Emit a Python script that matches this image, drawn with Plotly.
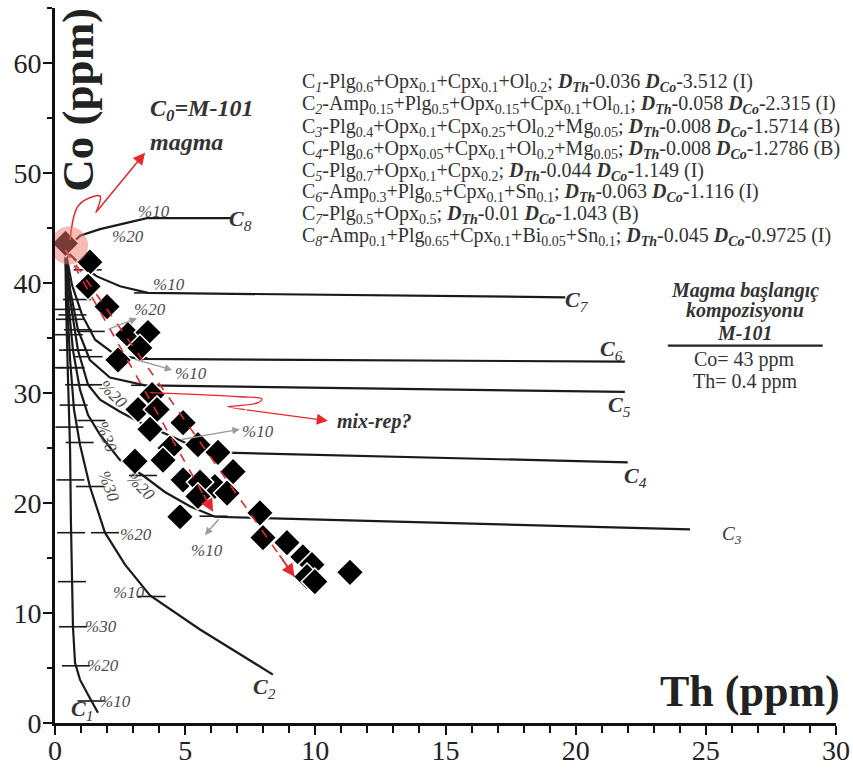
import numpy as np
import plotly.graph_objects as go

# ---- fractional crystallisation paths (Th ppm, Co ppm) starting at M-101 ----
c1_th = [0.40, 0.42, 0.50, 0.58, 0.61, 0.65, 0.69, 0.77, 0.96, 1.27, 1.65]
c1_co = [43.0, 38.5, 31.2, 24.8, 18.5, 13.0, 8.75, 5.48, 3.94, 2.57, 0.94]
c2_th = [0.40, 0.46, 0.58, 0.73, 0.96, 1.34, 1.92, 2.69, 3.65, 5.57, 8.37]
c2_co = [43.0, 38.5, 33.0, 28.5, 25.3, 21.5, 17.3, 14.4, 11.6, 8.5, 4.4]
c3_th = [0.40, 0.50, 0.69, 0.96, 1.27, 1.73, 2.50, 3.38, 4.22, 5.18, 6.14, 24.39]
c3_co = [43.0, 38.5, 33.9, 30.3, 28.0, 26.2, 23.9, 22.5, 21.0, 19.7, 18.75, 17.6]
c4_th = [0.40, 0.58, 0.88, 1.27, 1.73, 2.50, 3.46, 4.53, 5.57, 6.14, 22.0]
c4_co = [43.0, 38.5, 33.9, 30.75, 29.4, 28.3, 27.1, 26.0, 24.85, 24.6, 23.7]
c5_th = [0.40, 0.58, 0.88, 1.34, 2.11, 3.46, 21.89]
c5_co = [43.0, 39.4, 35.75, 33.0, 31.4, 30.7, 30.1]
c6_th = [0.40, 0.65, 1.04, 1.54, 2.30, 3.26, 21.89]
c6_co = [43.0, 39.85, 37.1, 34.85, 33.5, 33.1, 32.85]
c7_th = [0.40, 0.96, 1.61, 2.50, 3.57, 19.6]
c7_co = [43.0, 41.7, 40.6, 39.7, 39.1, 38.7]
c8_th = [0.40, 0.96, 1.73, 3.53, 6.84]
c8_co = [43.0, 44.3, 44.9, 45.9, 45.9]

# Co levels of the 10 % crystallisation steps marked on each path
c1_steps = [2.0, 5.2, 8.75, 12.85, 17.3, 22.1, 26.9, 32.3, 37.6]
c2_steps = [11.5, 17.3, 21.5, 25.5, 28.9, 32.3, 35.3]
c3_steps = [18.8, 22.5, 27.5, 30.75, 33.9, 36.7]
c4_steps = [24.7, 30.75, 33.9, 37.1]
c5_steps = [30.7, 33.3, 35.75]
c6_steps = [33.2, 35.6, 38.5]
c7_steps = [39.1, 41.2]

# ---- analysed samples ----
sample_th = [0.40, 1.34, 1.27, 2.00, 2.80, 3.57, 3.26, 2.42, 3.73, 3.19, 3.92,
             3.65, 4.92, 5.49, 4.42, 4.15, 3.07, 6.26, 4.92, 6.84, 6.14, 5.57,
             6.61, 5.49, 4.80, 7.87, 7.99, 8.91, 9.52, 9.87, 9.68, 9.98, 11.33]
sample_co = [43.6, 41.9, 39.7, 37.85, 35.3, 35.5, 34.1, 33.0, 29.85, 28.5, 28.5,
             26.7, 27.3, 25.3, 25.0, 23.9, 23.8, 24.6, 22.1, 22.85, 21.5, 21.9,
             20.9, 20.6, 18.75, 19.1, 16.85, 16.4, 15.1, 14.4, 13.3, 12.85, 13.7]

# ---- starting magma ----
m101_th = 0.54
m101_co = 43.4

# ---- trend arrows (start / end) ----
trend_a_th = [0.4, 6.07]
trend_a_co = [43.0, 19.2]
trend_b_th = [0.4, 9.2]
trend_b_co = [43.0, 13.3]

# zig-zag leader lines
c0_leader_th = [0.58, 0.92, 1.73, 1.57]
c0_leader_co = [43.9, 47.1, 47.9, 46.4]
c0_leader_tip = (3.46, 51.85)
mix_leader_th = [3.65, 5.57, 7.10, 7.95, 7.80, 7.10, 6.64, 7.30]
mix_leader_co = [30.03, 29.85, 29.66, 29.48, 29.12, 28.85, 28.76, 28.48]
mix_leader_tip = (10.48, 27.48)

# ---- legend text ----
D_TH = "<b><i>D</i></b><sub><b><i>Th</i></b></sub>"
D_CO = "<b><i>D</i></b><sub><b><i>Co</i></b></sub>"
model_lines = [
    f"C<sub><i>1</i></sub>-Plg<sub>0.6</sub>+Opx<sub>0.1</sub>+Cpx<sub>0.1</sub>+Ol<sub>0.2</sub>; {D_TH}-0.036 {D_CO}-3.512 (I)",
    f"C<sub><i>2</i></sub>-Amp<sub>0.15</sub>+Plg<sub>0.5</sub>+Opx<sub>0.15</sub>+Cpx<sub>0.1</sub>+Ol<sub>0.1</sub>; {D_TH}-0.058 {D_CO}-2.315 (I)",
    f"C<sub><i>3</i></sub>-Plg<sub>0.4</sub>+Opx<sub>0.1</sub>+Cpx<sub>0.25</sub>+Ol<sub>0.2</sub>+Mg<sub>0.05</sub>; {D_TH}-0.008 {D_CO}-1.5714 (B)",
    f"C<sub><i>4</i></sub>-Plg<sub>0.6</sub>+Opx<sub>0.05</sub>+Cpx<sub>0.1</sub>+Ol<sub>0.2</sub>+Mg<sub>0.05</sub>; {D_TH}-0.008 {D_CO}-1.2786 (B)",
    f"C<sub><i>5</i></sub>-Plg<sub>0.7</sub>+Opx<sub>0.1</sub>+Cpx<sub>0.2</sub>; {D_TH}-0.044 {D_CO}-1.149 (I)",
    f"C<sub><i>6</i></sub>-Amp<sub>0.3</sub>+Plg<sub>0.5</sub>+Cpx<sub>0.1</sub>+Sn<sub>0.1</sub>; {D_TH}-0.063 {D_CO}-1.116 (I)",
    f"C<sub><i>7</i></sub>-Plg<sub>0.5</sub>+Opx<sub>0.5</sub>; {D_TH}-0.01 {D_CO}-1.043 (B)",
    f"C<sub><i>8</i></sub>-Amp<sub>0.1</sub>+Plg<sub>0.65</sub>+Cpx<sub>0.1</sub>+Bi<sub>0.05</sub>+Sn<sub>0.1</sub>; {D_TH}-0.045 {D_CO}-0.9725 (I)",
]
model_line_co = [58.25, 56.25, 54.15, 52.15, 50.15, 48.2, 46.2, 44.2]

SERIF = "Liberation Serif"
INK = "#1a1a1a"
TEXT = "#333333"
RED = "#e8262b"
GREY_ARROW = "#9c9c9c"

fig = go.Figure()

paths = [(c1_th, c1_co, c1_steps), (c2_th, c2_co, c2_steps), (c3_th, c3_co, c3_steps),
         (c4_th, c4_co, c4_steps), (c5_th, c5_co, c5_steps), (c6_th, c6_co, c6_steps),
         (c7_th, c7_co, c7_steps), (c8_th, c8_co, [])]

for th, co, steps in paths:
    fig.add_trace(go.Scatter(x=th, y=co, mode="lines",
                             line=dict(color=INK, width=2.2), hoverinfo="skip"))
for th, co, steps in paths:
    if not steps:
        continue
    step_th = np.interp(steps, co[::-1], th[::-1])
    fig.add_trace(go.Scatter(x=step_th, y=steps, mode="markers",
                             marker=dict(symbol="line-ew", size=20,
                                         line=dict(color=INK, width=1.6)),
                             hoverinfo="skip"))

# samples
fig.add_trace(go.Scatter(x=sample_th, y=sample_co, mode="markers",
                         marker=dict(symbol="diamond", size=21, color="black",
                                     line=dict(color="white", width=1.5))))

# dashed trend lines
for th, co in [(trend_a_th, trend_a_co), (trend_b_th, trend_b_co)]:
    fig.add_trace(go.Scatter(x=th, y=co, mode="lines",
                             line=dict(color=RED, width=1.6, dash="dash"), hoverinfo="skip"))

# zig-zag leaders
fig.add_trace(go.Scatter(x=c0_leader_th, y=c0_leader_co, mode="lines",
                         line=dict(color=RED, width=1.5, shape="spline"), hoverinfo="skip"))
fig.add_trace(go.Scatter(x=mix_leader_th, y=mix_leader_co, mode="lines",
                         line=dict(color=RED, width=1.3, shape="spline"), hoverinfo="skip"))

# starting magma halo
fig.add_trace(go.Scatter(x=[m101_th], y=[m101_co], mode="markers",
                         marker=dict(symbol="circle", size=38,
                                     color="rgba(236,120,105,0.5)"),
                         hoverinfo="skip"))

ann = []


def arrow(x0, y0, x1, y1, color, width=1.5, size=1.0, head=2):
    ann.append(dict(x=x1, y=y1, ax=x0, ay=y0, xref="x", yref="y", axref="x", ayref="y",
                    text="", showarrow=True, arrowhead=head, arrowsize=size,
                    arrowwidth=width, arrowcolor=color, standoff=0))


def label(text, x, y, size, color=TEXT, xanchor="center", yanchor="middle", angle=0):
    ann.append(dict(x=x, y=y, xref="x", yref="y", text=text, showarrow=False,
                    xanchor=xanchor, yanchor=yanchor, textangle=angle,
                    font=dict(family=SERIF, size=size, color=color)))


# arrow heads on the dashed trends
for th, co in [(trend_a_th, trend_a_co), (trend_b_th, trend_b_co)]:
    t0 = 0.93
    arrow(th[0] + t0 * (th[1] - th[0]), co[0] + t0 * (co[1] - co[0]), th[1], co[1],
          RED, width=1.6, size=1.6)

# final legs of the leaders
arrow(c0_leader_th[-1], c0_leader_co[-1], *c0_leader_tip, RED, width=1.5, size=1.6)
arrow(mix_leader_th[-1], mix_leader_co[-1], *mix_leader_tip, RED, width=1.3, size=1.7)

# grey pointers to step labels
arrow(2.0, 35.75, 3.15, 36.8, GREY_ARROW)
arrow(3.0, 33.1, 4.5, 32.1, GREY_ARROW)
arrow(4.8, 25.75, 7.1, 26.7, GREY_ARROW)
arrow(6.34, 18.66, 5.76, 17.1, GREY_ARROW)

# step labels
PCT = "#4d4d4d"
label("<i>%10</i>", 1.61, 2.0, 17, PCT, xanchor="left")
label("<i>%20</i>", 1.15, 5.2, 17, PCT, xanchor="left")
label("<i>%30</i>", 1.08, 8.75, 17, PCT, xanchor="left")
label("<i>%10</i>", 3.53, 11.85, 17, PCT, xanchor="right")
label("<i>%20</i>", 2.42, 17.1, 17, PCT, xanchor="left")
label("<i>%30</i>", 2.07, 21.5, 17, PCT, angle=70)
label("<i>%20</i>", 3.30, 21.5, 17, PCT, angle=45)
label("<i>%30</i>", 2.00, 26.0, 17, PCT, angle=70)
label("<i>%20</i>", 2.23, 29.85, 17, PCT, angle=45)
label("<i>%10</i>", 5.84, 15.7, 17, PCT)
label("<i>%10</i>", 7.80, 26.5, 17, PCT)
label("<i>%10</i>", 5.22, 31.75, 17, PCT)
label("<i>%20</i>", 3.65, 37.6, 17, PCT)
label("<i>%10</i>", 4.38, 39.9, 17, PCT)
label("<i>%10</i>", 3.80, 46.5, 17, PCT)
label("<i>%20</i>", 2.80, 44.2, 17, PCT)

# path names
label("<b><i>C</i></b><sub><i>1</i></sub>", 1.04, 1.2, 22)
label("<b><i>C</i></b><sub><i>2</i></sub>", 8.06, 3.2, 22)
label("<i>C</i><sub><i>3</i></sub>", 26.0, 17.1, 19)
label("<b><i>C</i></b><sub><i>4</i></sub>", 22.31, 22.4, 22)
label("<b><i>C</i></b><sub><i>5</i></sub>", 21.7, 28.85, 22)
label("<b><i>C</i></b><sub><i>6</i></sub>", 21.39, 33.94, 22)
label("<b><i>C</i></b><sub><i>7</i></sub>", 20.05, 38.4, 22)
label("<b><i>C</i></b><sub><i>8</i></sub>", 7.14, 45.76, 22)

# leader texts
label("<b><i>C</i></b><sub><b><i>0</i></b></sub><b><i>=M-101</i></b>", 3.57, 55.75, 24, xanchor="left")
label("<b><i>magma</i></b>", 3.57, 52.85, 24, xanchor="left")
label("<b><i>mix-rep?</i></b>", 10.75, 27.4, 20, xanchor="left")

# model legend
for text, co in zip(model_lines, model_line_co):
    label(text, 9.41, co, 20, xanchor="left")

# starting composition box
label("<b><i>Magma başlangıç</i></b>", 26.5, 39.36, 20)
label("<b><i>kompozisyonu</i></b>", 26.5, 37.48, 20)
label("<b><i>M-101</i></b>", 26.5, 35.48, 20)
label("Co= 43 ppm", 26.5, 33.03, 20)
label("Th= 0.4 ppm", 26.5, 31.03, 20)

# axis titles drawn inside the frame
label("<b>Co (ppm)</b>", 0.88, 56.66, 45, color="#222222", angle=-90)
label("<b>Th (ppm)</b>", 26.69, 2.9, 44, color="#222222")

shapes = [dict(type="line", xref="x", yref="y", x0=23.54, x1=29.49, y0=34.3, y1=34.3,
               line=dict(color="#222222", width=2.2))]

axis_common = dict(showline=True, linewidth=3, linecolor="#111111", ticks="outside",
                   tickwidth=2, tickcolor="#111111", ticklen=9, showgrid=False,
                   zeroline=False, automargin=False,
                   tickfont=dict(family=SERIF, size=28, color="#222222"))

fig.update_layout(
    width=853, height=769,
    margin=dict(l=55, r=17, t=8, b=46),
    paper_bgcolor="white", plot_bgcolor="white",
    showlegend=False,
    annotations=ann, shapes=shapes,
    xaxis=dict(range=[0, 30], tick0=0, dtick=5, ticklabelstandoff=-9,
               minor=dict(dtick=1, ticks="outside", ticklen=7, tickwidth=2,
                          tickcolor="#111111", showgrid=False),
               **axis_common),
    yaxis=dict(range=[0, 65], tick0=0, dtick=10, ticklabelstandoff=-4,
               minor=dict(dtick=5, ticks="outside", ticklen=5, tickwidth=2,
                          tickcolor="#111111", showgrid=False),
               **axis_common),
)

fig.write_html("out.html")
